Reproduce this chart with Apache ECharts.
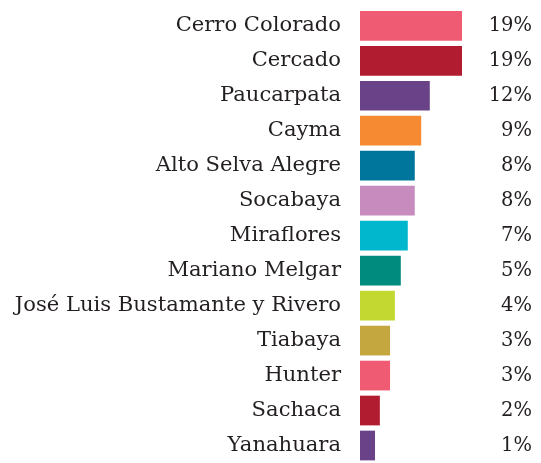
<!DOCTYPE html>
<html>
<head>
<meta charset="utf-8">
<script src="https://cdn.jsdelivr.net/npm/echarts@6/dist/echarts.min.js"></script>
<style>
  html, body { margin: 0; padding: 0; background: #fff; }
  #chart { width: 541px; height: 463px; }
</style>
</head>
<body>
<div id="chart"></div>
<script>
// distritos, de arriba hacia abajo
const categories = ['Cerro Colorado', 'Cercado', 'Paucarpata', 'Cayma', 'Alto Selva Alegre', 'Socabaya',
  'Miraflores', 'Mariano Melgar', 'José Luis Bustamante y Rivero', 'Tiabaya', 'Hunter', 'Sachaca', 'Yanahuara']
// largo de las barras
const barValues = [19.0, 19.0, 13.0, 11.4, 10.2, 10.2, 8.9, 7.6, 6.5, 5.6, 5.6, 3.7, 2.8]
// etiquetas de porcentaje
const pctLabels = [19, 19, 12, 9, 8, 8, 7, 5, 4, 3, 3, 2, 1]
const colors = ['#F05B74', '#B21C31', '#694287', '#F68A33', '#00769C', '#C88BBE', '#00B7CE',
  '#008B7F', '#C3D932', '#C4A83F', '#F05B74', '#B21C31', '#694287']

const myChart = echarts.init(document.getElementById('chart'))
const font = 'DejaVu Serif'
let option = {
  animation: false,
  grid: {
    left: 360,
    width: 102,
    top: 8.3,
    height: 459.3,
    containLabel: false
  },
  xAxis: {
    type: 'value',
    min: 0,
    max: 19,
    show: false
  },
  yAxis: [
    {
      type: 'category',
      inverse: true,
      data: categories,
      axisLine: { show: false },
      axisTick: { show: false },
      axisLabel: {
        margin: 19,
        color: '#231f20',
        fontFamily: font,
        fontSize: 21.1,
        padding: [0, 0, 10, 0]
      }
    },
    {
      type: 'category',
      inverse: true,
      position: 'right',
      data: pctLabels.map(v => v + '%'),
      axisLine: { show: false },
      axisTick: { show: false },
      axisLabel: {
        margin: 70,
        align: 'right',
        color: '#231f20',
        fontFamily: font,
        fontSize: 19.5
      }
    }
  ],
  series: [
    {
      type: 'bar',
      barCategoryGap: '15%',
      data: barValues.map((v, i) => ({ value: v, itemStyle: { color: colors[i] } }))
    }
  ]
}
myChart.setOption(option)
</script>
</body>
</html>
